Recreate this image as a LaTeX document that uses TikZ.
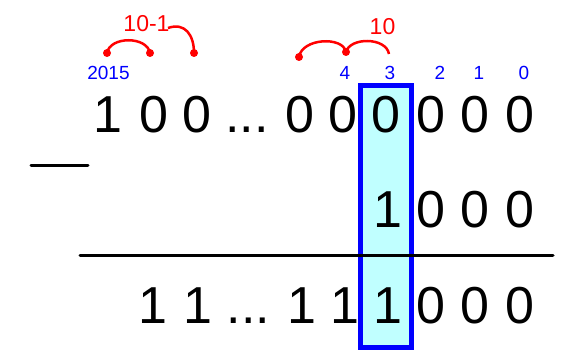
\documentclass[tikz,border=0pt]{standalone}
\usepackage{fontspec}
\setmainfont{Liberation Sans}
\definecolor{boxfill}{HTML}{C0FFFF}
\begin{document}
\begin{tikzpicture}[x=1pt,y=-1pt,
  dig/.style={anchor=base,inner sep=0pt,font=\fontsize{52}{52}\selectfont},
  lbl/.style={anchor=base,inner sep=0pt,text=blue,font=\fontsize{19}{19}\selectfont},
  rlbl/.style={anchor=base,inner sep=0pt,text=red,font=\fontsize{23}{23}\selectfont},
  rdot/.style={circle,fill=red,inner sep=0pt,minimum size=8pt},
  redarc/.style={red,line width=2.5pt},
  blackrule/.style={black,line width=3pt,line cap=round}]
\useasboundingbox (0,0) rectangle (562,358);
% highlighted column
\node[draw=blue,line width=5pt,fill=boxfill,minimum width=51pt,minimum height=261pt,inner sep=0pt] (box) at (385.5,216.5) {};
% top row
\node[dig] (t1) at (108,133) {1};
\node[dig] (t2) at (153.5,133) {0};
\node[dig] (t3) at (196.5,133) {0};
\node[dig] (t4) at (247,133) {...};
\node[dig] (t5) at (300,133) {0};
\node[dig] (t6) at (343,133) {0};
\node[dig] (t7) at (386,133) {0};
\node[dig] (t8) at (431,133) {0};
\node[dig] (t9) at (475,133) {0};
\node[dig] (t10) at (520,133) {0};
% second row
\node[dig] (s1) at (388,228) {1};
\node[dig] (s2) at (431,228) {0};
\node[dig] (s3) at (475,228) {0};
\node[dig] (s4) at (520,228) {0};
% result row
\node[dig] (r1) at (153,323) {1};
\node[dig] (r2) at (198,323) {1};
\node[dig] (r3) at (248.5,323) {...};
\node[dig] (r4) at (302,323) {1};
\node[dig] (r5) at (345,323) {1};
\node[dig] (r6) at (388,323) {1};
\node[dig] (r7) at (431,323) {0};
\node[dig] (r8) at (475,323) {0};
\node[dig] (r9) at (520,323) {0};
% minus sign and rule
\coordinate (m1) at (31,166);
\coordinate (m2) at (88,166);
\draw[blackrule] (m1) -- (m2);
\coordinate (h1) at (80,255);
\coordinate (h2) at (553,255);
\draw[blackrule] (h1) -- (h2);
% column labels
\node[lbl] (l2015) at (108.5,80) {2015};
\node[lbl] (l4) at (345,80) {4};
\node[lbl] (l3) at (390,80) {3};
\node[lbl] (l2) at (440,80) {2};
\node[lbl] (l1) at (479,80) {1};
\node[lbl] (l0) at (524,80) {0};
% red labels and arcs
\node[rlbl] (tenm) at (146.5,32) {10-1};
\node[rlbl] (ten) at (382.5,35) {10};
\node[rdot] (d1) at (107,53) {};
\node[rdot] (d2) at (150,53) {};
\node[rdot] (d3) at (194,53) {};
\node[rdot] (d4) at (299,57) {};
\node[rdot] (d5) at (346,52) {};
\coordinate (e1) at (168,28);
\coordinate (e2) at (389,54);
\draw[redarc] (d1.center) .. controls (110,36) and (147,36) .. (d2.center);
\draw[redarc] (e1) .. controls (185,22) and (194,35) .. (d3.center);
\draw[redarc] (d4.center) .. controls (302,38) and (343,36) .. (d5.center);
\draw[redarc] (d5.center) .. controls (350,37) and (386,37) .. (e2);
\end{tikzpicture}
\end{document}
